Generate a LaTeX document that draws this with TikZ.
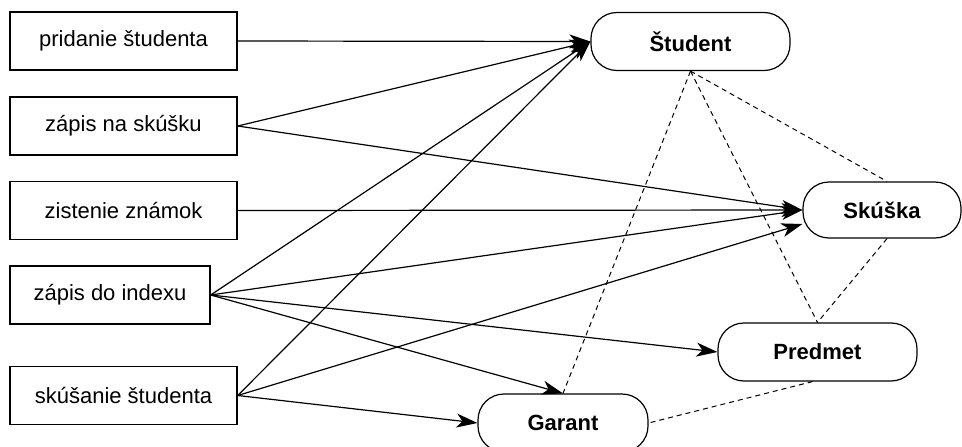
\documentclass[tikz,border=0pt]{standalone}
\usepackage{fontspec}
\setmainfont{Liberation Sans}
\usetikzlibrary{arrows.meta}
\begin{document}
\begin{tikzpicture}[x=1pt,y=-1pt,
  action/.style={draw, line width=1.4pt, minimum height=58pt, inner sep=0pt,
    font=\fontsize{22}{26}\selectfont},
  entity/.style={draw, line width=1.2pt, rounded corners=26pt, minimum height=58pt,
    inner sep=0pt, font=\fontsize{22}{26}\selectfont\bfseries},
  flow/.style={line width=1.2pt, -{Stealth[length=21pt,width=14pt,inset=6pt]}},
  link/.style={line width=1pt, dash pattern=on 5pt off 4pt}]
\useasboundingbox (0,0) rectangle (962,447);

% use cases
\node[action, minimum width=227pt] (b1) at (123.5,41)    {pridanie študenta};
\node[action, minimum width=227pt] (b2) at (123.5,126)   {zápis na skúšku};
\node[action, minimum width=227pt] (b3) at (123.5,210.5) {zistenie známok};
\node[action, minimum width=200pt] (b4) at (110,295)     {zápis do indexu};
\node[action, minimum width=227pt] (b5) at (123.5,395.5) {skúšanie študenta};

% entities
\node[entity, minimum width=199pt] (st) at (690.5,41.5) {Študent};
\node[entity, minimum width=158pt, minimum height=56pt] (sk) at (882,210) {Skúška};
\node[entity, minimum width=199pt] (pr) at (817.5,352) {Predmet};
\node[entity, minimum width=170pt] (ga) at (563,423) {Garant};

% data flows
\draw[flow] (b1.east) -- (st.west);
\draw[flow] (b2.east) -- (st.west);
\draw[flow] (b2.east) -- (sk.west);
\draw[flow] (b3.east) -- (sk.west);
\draw[flow] (b4.east) -- (st.west);
\draw[flow] (b4.east) -- (sk.west);
\draw[flow] (b4.east) -- (pr.west);
\draw[flow] (b4.east) -- (ga.north);
\draw[flow] (b5.east) -- (st.west);
\draw[flow] (b5.east) -- ([yshift=-14pt]sk.west);
\draw[flow] (b5.east) -- (ga.west);

% relationships between entities
\draw[link] (st.south) -- (ga.north);
\draw[link] (st.south) -- ([xshift=5pt]sk.north);
\draw[link] (st.south) -- (pr.north);
\draw[link] ([xshift=5pt]sk.south) -- (pr.north);
\draw[link] ([xshift=-5pt]pr.south) -- (ga.east);
\end{tikzpicture}
\end{document}
